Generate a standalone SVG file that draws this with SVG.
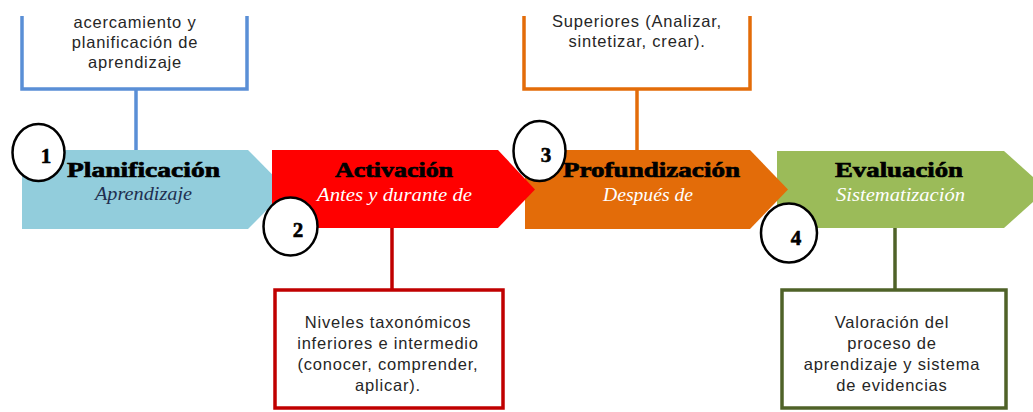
<svg xmlns="http://www.w3.org/2000/svg" width="1033" height="412" viewBox="0 0 1033 412">
  <style>
    .box { fill: #FFFFFF; stroke-width: 3.5; }
    .btxt { font-family: "Liberation Sans", Arial, sans-serif; font-size: 16.5px; fill: #262626; text-anchor: middle; letter-spacing: 0.8px; }
    .title { font-family: "Liberation Serif", "Times New Roman", serif; font-weight: bold; font-size: 22px; fill: #000000; stroke: #000000; stroke-width: 0.7px; }
    .sub { font-family: "Liberation Serif", "Times New Roman", serif; font-style: italic; font-size: 18px; }
    .circ { fill: #FFFFFF; stroke: #000000; stroke-width: 2.5; }
    .num { font-family: "Liberation Serif", "Times New Roman", serif; font-weight: bold; font-size: 21px; fill: #000000; stroke: #000000; stroke-width: 0.6px; text-anchor: middle; }
    .conn { stroke-width: 3.5; fill: none; }
  </style>
  <rect width="1033" height="412" fill="#FFFFFF"/>

  <!-- connectors -->
  <g id="connectors">
    <line class="conn" x1="136" y1="89" x2="136" y2="151" stroke="#5A8FD6"/>
    <line class="conn" x1="392" y1="227" x2="392" y2="290" stroke="#C00000"/>
    <line class="conn" x1="637" y1="89" x2="637" y2="151" stroke="#E36C09"/>
    <line class="conn" x1="895" y1="227" x2="895" y2="290" stroke="#4F6228"/>
  </g>

  <!-- detail boxes -->
  <g id="box1">
    <path class="box" d="M22,16 V89 H247 V16" stroke="#5A8FD6"/>
    <text class="btxt" letter-spacing="0.6" x="135" y="28">acercamiento y</text>
    <text class="btxt" letter-spacing="0.6" x="135" y="48">planificación de</text>
    <text class="btxt" letter-spacing="0.6" x="135" y="68">aprendizaje</text>
  </g>
  <g id="box3">
    <path class="box" d="M524,16 V89 H750 V16" stroke="#E36C09"/>
    <text class="btxt" letter-spacing="0.6" x="637" y="27">Superiores (Analizar,</text>
    <text class="btxt" letter-spacing="0.6" x="637" y="47">sintetizar, crear).</text>
  </g>
  <g id="box2">
    <rect class="box" x="275" y="290" width="228" height="118" stroke="#C00000"/>
    <text class="btxt" x="388" y="328">Niveles taxonómicos</text>
    <text class="btxt" x="388" y="349">inferiores e intermedio</text>
    <text class="btxt" x="388" y="370">(conocer, comprender,</text>
    <text class="btxt" x="388" y="391">aplicar).</text>
  </g>
  <g id="box4">
    <rect class="box" x="782" y="290" width="224" height="118" stroke="#4F6228"/>
    <text class="btxt" x="892" y="328">Valoración del</text>
    <text class="btxt" x="892" y="349">proceso de</text>
    <text class="btxt" x="892" y="370">aprendizaje y sistema</text>
    <text class="btxt" x="892" y="391">de evidencias</text>
  </g>

  <!-- phase arrows -->
  <g id="phase1">
    <polygon points="22,150 248,150 287,189.5 248,229 22,229" fill="#92CDDC"/>
    <text class="title" x="67" y="177" textLength="153" lengthAdjust="spacingAndGlyphs">Planificación</text>
    <text class="sub" x="95" y="200" textLength="97" lengthAdjust="spacingAndGlyphs" fill="#1F3050">Aprendizaje</text>
  </g>
  <g id="phase4">
    <polygon points="777,151 1004,151 1047,189.5 1004,228 777,228" fill="#9BBB59"/>
    <text class="title" x="835" y="177" textLength="128" lengthAdjust="spacingAndGlyphs">Evaluación</text>
    <text class="sub" x="836" y="201" textLength="129" lengthAdjust="spacingAndGlyphs" fill="#FFFFFF">Sistematización</text>
  </g>
  <g id="phase3">
    <polygon points="525,150 750,150 788,189.5 750,229 525,229" fill="#E36C09"/>
    <text class="title" x="563" y="177" textLength="177" lengthAdjust="spacingAndGlyphs">Profundización</text>
    <text class="sub" x="603" y="201" textLength="90" lengthAdjust="spacingAndGlyphs" fill="#FFFFFF">Después de</text>
  </g>
  <g id="phase2">
    <polygon points="272,150 498,150 535,189.5 498,228 272,228" fill="#FF0000"/>
    <text class="title" x="335" y="177" textLength="118" lengthAdjust="spacingAndGlyphs">Activación</text>
    <text class="sub" x="317" y="201" textLength="155" lengthAdjust="spacingAndGlyphs" fill="#FFFFFF">Antes y durante de</text>
  </g>

  <!-- step number circles -->
  <g id="step1">
    <ellipse class="circ" cx="38.5" cy="152.5" rx="26" ry="28.5"/>
    <text class="num" x="46" y="163">1</text>
  </g>
  <g id="step2">
    <ellipse class="circ" cx="290.5" cy="226.5" rx="27" ry="29"/>
    <text class="num" x="298" y="237">2</text>
  </g>
  <g id="step3">
    <ellipse class="circ" cx="539.5" cy="151" rx="26" ry="30"/>
    <text class="num" x="546" y="162">3</text>
  </g>
  <g id="step4">
    <ellipse class="circ" cx="789" cy="233" rx="28" ry="29.5"/>
    <text class="num" x="796" y="245">4</text>
  </g>
</svg>
